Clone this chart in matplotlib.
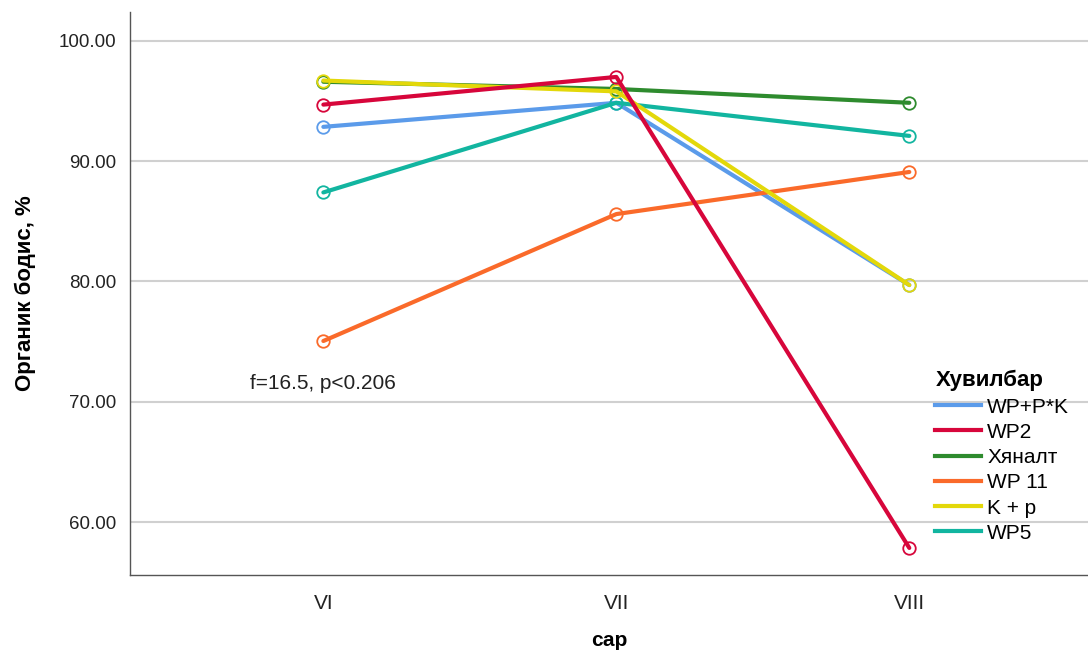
import matplotlib
matplotlib.use("Agg")
import matplotlib.pyplot as plt
from matplotlib.lines import Line2D

plt.rcParams["font.family"] = ["Liberation Sans", "DejaVu Sans"]

months = ["VI", "VII", "VIII"]
series_names = ["WP+P*K", "WP2", "Хяналт", "WP 11", "K + p", "WP5"]
colors = ["#5b9bea", "#d7063b", "#2e8b2e", "#fa6a2a", "#e3d80a", "#12b5a0"]

wp_pk = [92.85, 94.85, 79.7]
wp2 = [94.7, 97.0, 57.85]
control = [96.6, 96.0, 94.85]
wp11 = [75.05, 85.6, 89.1]
k_p = [96.7, 95.8, 79.7]
wp5 = [87.4, 94.85, 92.1]

values = [wp_pk, wp2, control, wp11, k_p, wp5]
# drawing order, red series on top
zorders = [3, 8, 4, 5, 6, 5]

fig = plt.figure(figsize=(10.88, 6.54), dpi=100, facecolor="white")
ax = fig.add_axes([0.1195, 0.1208, 0.8805, 0.8609])

x = list(range(len(months)))
for name, vals, color, z in zip(series_names, values, colors, zorders):
    ax.plot(x, vals, color=color, lw=3.0, zorder=z, solid_capstyle="round",
            marker="o", markersize=9, markerfacecolor="none",
            markeredgecolor=color, markeredgewidth=1.3)

ax.set_xlim(-0.66, 2.61)
ax.set_ylim(55.6, 102.4)
ax.set_xticks(x)
ax.set_xticklabels(months, fontsize=15, color="#222222")
ax.set_yticks([60, 70, 80, 90, 100])
ax.set_yticklabels([f"{v:.2f}" for v in [60, 70, 80, 90, 100]], fontsize=13.5, color="#222222")
ax.tick_params(axis="both", length=0, pad=10)
ax.tick_params(axis="x", pad=14)

ax.grid(axis="y", color="#d0d0d0", lw=1.5, zorder=0)
ax.set_axisbelow(True)
for side in ["top", "right"]:
    ax.spines[side].set_visible(False)
for side in ["left", "bottom"]:
    ax.spines[side].set_color("#555555")
    ax.spines[side].set_linewidth(1.0)

ax.set_xlabel("сар", fontsize=15, fontweight="bold")
ax.xaxis.set_label_coords(0.5, -0.1)
ax.set_ylabel("Органик бодис, %", fontsize=16, fontweight="bold")
ax.yaxis.set_label_coords(-0.098, 0.5)

ax.text(-0.25, 71.5, "f=16.5, p<0.206", fontsize=15, va="center", ha="left", color="#222222")

handles = [Line2D([], [], color=c, lw=3.0) for c in colors]
leg = fig.legend(handles, series_names, loc="upper left", bbox_to_anchor=(0.852, 0.447),
                 frameon=False, fontsize=15, title="Хувилбар", handlelength=2.2,
                 handletextpad=0.3, labelspacing=0.3, borderaxespad=0)
leg.get_title().set_fontweight("bold")
leg.get_title().set_fontsize(16)
leg._legend_box.align = "left"

fig.savefig("out.png", dpi=100, facecolor="white")
